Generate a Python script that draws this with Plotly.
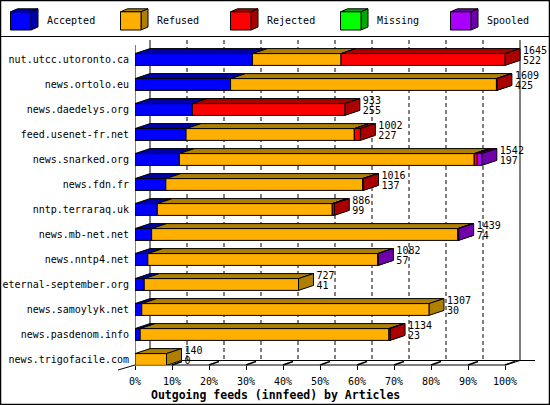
import plotly.graph_objects as go

# ---------------- data ----------------
feeds = ["nut.utcc.utoronto.ca", "news.ortolo.eu", "news.daedelys.org",
         "feed.usenet-fr.net", "news.snarked.org", "news.fdn.fr",
         "nntp.terraraq.uk", "news.mb-net.net", "news.nntp4.net",
         "eternal-september.org", "news.samoylyk.net", "news.pasdenom.info",
         "news.trigofacile.com"]
totals = [1645, 1609, 933, 1002, 1542, 1016, 886, 1439, 1082, 727, 1307, 1134, 140]
accepted = [522, 425, 255, 227, 197, 137, 99, 74, 57, 41, 30, 23, 0]
refused = [394, 1182, 0, 748, 1311, 875, 778, 1361, 1022, 686, 1277, 1106, 140]
rejected = [729, 2, 678, 27, 14, 4, 9, 0, 0, 0, 0, 5, 0]
missing = [0, 0, 0, 0, 0, 0, 0, 0, 0, 0, 0, 0, 0]
spooled = [0, 0, 0, 0, 20, 0, 0, 4, 3, 0, 0, 0, 0]

series_names = ["Accepted", "Refused", "Rejected", "Missing", "Spooled"]
series_values = [accepted, refused, rejected, missing, spooled]
pct_ticks = [0, 10, 20, 30, 40, 50, 60, 70, 80, 90, 100]
pct_labels = ["0%", "10%", "20%", "30%", "40%", "50%", "60%", "70%", "80%", "90%", "100%"]
title_text = "Outgoing feeds (innfeed) by Articles"

# ---------------- style ----------------
front_colors = ["#0000FF", "#FFAF00", "#FF0000", "#00FF00", "#AA00FF"]
dark_colors = ["#0000AA", "#AF7F00", "#AA0000", "#00AA00", "#7000AA"]
FONT = "DejaVu Sans Mono"

W, H = 550, 405
L, R, T, B = 135, 0, 37, 40
PX_PER_PCT = 3.7          # 100 % -> 370 px
ROW_PX = 25.0
ROW0_PX = 59.5            # pixel centre of first row
XMAX = (W - L - R) / PX_PER_PCT
Y_TOP = -(ROW0_PX - T) / ROW_PX
Y_BOT = (H - B - ROW0_PX) / ROW_PX
DX = 15 / PX_PER_PCT      # depth offsets
DY = 5 / ROW_PX
HH = 5.9 / ROW_PX         # half height of the front face
LABEL_GAP = 3 / PX_PER_PCT


def PX(x):
    return (x - L) / (W - L - R)


def PY(y):
    return (H - B - y) / (H - T - B)


max_total = max(totals)
fig = go.Figure()

# ---------------- bars (3D boxes) ----------------
starts = [0.0] * len(feeds)
for s, vals in enumerate(series_values):
    fx, fy, tx, ty, sx, sy = [], [], [], [], [], []
    for i, v in enumerate(vals):
        if v <= 0:
            continue
        a = starts[i]
        b = a + v / max_total * 100
        starts[i] = b
        r = i
        fx += [a, b, b, a, a, None]
        fy += [r + HH, r + HH, r - HH, r - HH, r + HH, None]
        tx += [a, b, b + DX, a + DX, a, None]
        ty += [r - HH, r - HH, r - HH - DY, r - HH - DY, r - HH, None]
        sx += [b, b + DX, b + DX, b, b, None]
        sy += [r + HH, r + HH - DY, r - HH - DY, r - HH, r + HH, None]
    for xs, ys, col in ((tx, ty, dark_colors[s]), (sx, sy, dark_colors[s]),
                        (fx, fy, front_colors[s])):
        if xs:
            fig.add_trace(go.Scatter(x=xs, y=ys, mode="lines", fill="toself",
                                     fillcolor=col, line=dict(color="black", width=1),
                                     hoverinfo="skip", showlegend=False))

# ---------------- value labels ----------------
ends = [t / max_total * 100 + DX + LABEL_GAP for t in totals]
rows = list(range(len(feeds)))
fig.add_trace(go.Scatter(x=ends, y=[r - 0.31 for r in rows], mode="text",
                         text=[str(t) for t in totals], textposition="middle right",
                         textfont=dict(family=FONT, size=10, color="black"),
                         cliponaxis=False, hoverinfo="skip", showlegend=False))
fig.add_trace(go.Scatter(x=ends, y=[r + 0.09 for r in rows], mode="text",
                         text=[str(a) for a in accepted], textposition="middle right",
                         textfont=dict(family=FONT, size=10, color="black"),
                         cliponaxis=False, hoverinfo="skip", showlegend=False))

shapes = []
# ---------------- back wall grid ----------------
for t in pct_ticks:
    dash = "solid" if t in (0, 100) else "4px,3px"
    shapes.append(dict(type="line", xref="x", yref="paper", x0=t + DX, x1=t + DX,
                       y0=PY(40), y1=PY(360), layer="below",
                       line=dict(color="black", width=1, dash=dash)))
# front-left axis
shapes.append(dict(type="line", xref="x", yref="paper", x0=0, x1=0, y0=PY(45), y1=PY(365),
                   layer="below", line=dict(color="black", width=1)))
# floor
shapes.append(dict(type="line", xref="x", yref="paper", x0=0, x1=100, y0=PY(365), y1=PY(365),
                   layer="below", line=dict(color="black", width=1)))
shapes.append(dict(type="line", xref="x", yref="paper", x0=DX, x1=XMAX - 15 / PX_PER_PCT,
                   y0=PY(360.5), y1=PY(360.5), layer="below", line=dict(color="black", width=1)))
shapes.append(dict(type="line", xref="x", yref="paper", x0=100, x1=100 + DX, y0=PY(365), y1=PY(360.5),
                   layer="below", line=dict(color="black", width=1)))
shapes.append(dict(type="line", xref="paper", yref="paper", x0=PX(118), x1=PX(135),
                   y0=PY(370), y1=PY(365), layer="below", line=dict(color="black", width=1)))
for t in pct_ticks[1:]:
    shapes.append(dict(type="line", xref="x", yref="paper", x0=t, x1=t + 10 / PX_PER_PCT,
                       y0=PY(365), y1=PY(361.5), layer="above",
                       line=dict(color="black", width=1.5)))

# ---------------- frame ----------------
shapes.append(dict(type="rect", xref="paper", yref="paper", x0=PX(0.5), x1=PX(549.5),
                   y0=PY(0.5), y1=PY(404.5), line=dict(color="black", width=1.5)))
shapes.append(dict(type="line", xref="paper", yref="paper", x0=PX(0), x1=PX(550),
                   y0=PY(36.5), y1=PY(36.5), line=dict(color="black", width=1)))

# ---------------- legend (3D cubes) ----------------
annotations = []
for k, name in enumerate(series_names):
    x0 = 10.5 + 110 * k
    x1 = x0 + 20.5
    y0, y1 = 11.8, 30
    ddx, ddy = 7, 3
    top = f"M {PX(x0)} {PY(y0)} L {PX(x1)} {PY(y0)} L {PX(x1 + ddx)} {PY(y0 - ddy)} L {PX(x0 + ddx)} {PY(y0 - ddy)} Z"
    side = f"M {PX(x1)} {PY(y0)} L {PX(x1 + ddx)} {PY(y0 - ddy)} L {PX(x1 + ddx)} {PY(y1 - ddy)} L {PX(x1)} {PY(y1)} Z"
    shapes.append(dict(type="path", xref="paper", yref="paper", path=top,
                       fillcolor=dark_colors[k], line=dict(color="black", width=1)))
    shapes.append(dict(type="path", xref="paper", yref="paper", path=side,
                       fillcolor=dark_colors[k], line=dict(color="black", width=1)))
    shapes.append(dict(type="rect", xref="paper", yref="paper", x0=PX(x0), x1=PX(x1),
                       y0=PY(y0), y1=PY(y1), fillcolor=front_colors[k],
                       line=dict(color="black", width=1)))
    annotations.append(dict(xref="paper", yref="paper", x=PX(44.5 + 110 * k), y=PY(21),
                            xanchor="left", yanchor="middle", showarrow=False, text=name,
                            font=dict(family=FONT, size=10, color="black")))

annotations.append(dict(xref="paper", yref="paper", x=PX(275), y=PY(395),
                        xanchor="center", yanchor="middle", showarrow=False,
                        text="<b>" + title_text + "</b>",
                        font=dict(family=FONT, size=11.5, color="black")))

fig.update_layout(
    width=W, height=H, margin=dict(l=L, r=R, t=T, b=B, pad=0),
    paper_bgcolor="white", plot_bgcolor="white",
    shapes=shapes, annotations=annotations, showlegend=False,
    hovermode=False,
    xaxis=dict(range=[0, XMAX], tickvals=pct_ticks, ticktext=pct_labels,
               ticks="outside", ticklen=4, tickcolor="black", tickwidth=1,
               showgrid=False, zeroline=False, showline=False, fixedrange=True,
               tickfont=dict(family=FONT, size=10, color="black"),
               ticklabelstandoff=3),
    yaxis=dict(range=[Y_BOT, Y_TOP], tickvals=rows, ticktext=feeds,
               ticks="outside", ticklen=3, tickcolor="rgba(0,0,0,0)",
               showgrid=False, zeroline=False, showline=False, fixedrange=True,
               tickfont=dict(family=FONT, size=10, color="black")),
)

fig.write_html("out.html", config={"displayModeBar": False},
               post_script="document.body.style.margin='0';document.body.style.overflow='hidden';")
